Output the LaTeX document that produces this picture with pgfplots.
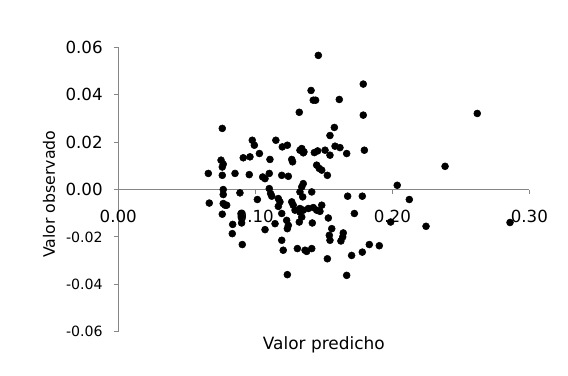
\documentclass[border=0pt]{standalone}
\usepackage{fontspec}
\setmainfont{DejaVu Sans}
\usepackage{pgfplots}
\pgfplotsset{compat=1.18}
\definecolor{axisgray}{HTML}{868686}
\newcommand{\bigf}{\fontsize{12.5}{14}\selectfont}
\newcommand{\smallf}{\fontsize{10.6}{12}\selectfont}
\begin{document}
\begin{tikzpicture}
\begin{axis}[
  name=ax,
  scale only axis, width=308.25pt, height=213.3pt,
  xmin=0, xmax=0.30, ymin=-0.06, ymax=0.06,
  scaled ticks=false,
  axis x line*=middle, axis y line*=left,
  hide obscured x ticks=false, hide obscured y ticks=false,
  axis line style={color=axisgray, line width=0.75pt},
  xtick={0,0.1,0.2,0.3}, xticklabels={0.00,0.10,0.20,0.30},
  ytick={-0.06,-0.04,-0.02,0,0.02,0.04,0.06},
  yticklabels={{\smallf -0.06},{\smallf -0.04},{\smallf -0.02},{\bigf 0.00},{\bigf 0.02},{\bigf 0.04},{\bigf 0.06}},
  tick align=outside, major tick length=3.5pt,
  tick style={color=axisgray, line width=0.75pt},
  x tick label style={font=\bigf, anchor=center, yshift=-16.8pt},
  y tick label style={anchor=east, inner sep=0pt, xshift=-8pt},
  xlabel={Valor predicho}, ylabel={Valor observado},
  xlabel style={at={(axis description cs:0.5,-0.047)}, anchor=center, font=\fontsize{12.7}{15}\selectfont},
  ylabel style={at={(axis description cs:-0.1686,0.484)}, anchor=center, font=\fontsize{11.8}{14}\selectfont},
  clip=false,
]
\addplot[only marks, mark=*, mark size=2.6pt, mark options={fill=black, draw=black}] coordinates {
(0.0759,0.0258) (0.0978,0.0208) (0.0993,0.0187) (0.103,0.0152) (0.0912,0.0134)
(0.0961,0.0138) (0.1107,0.0127) (0.115,0.0208) (0.1197,0.018) (0.1234,0.0187)
(0.1326,0.0166) (0.135,0.0155) (0.1266,0.0127) (0.1321,0.0326) (0.1407,0.0418)
(0.075,0.0124) (0.146,0.0566) (0.1423,0.0377) (0.144,0.0377) (0.1788,0.0445)
(0.1613,0.038) (0.1788,0.0314) (0.1577,0.0262) (0.1545,0.0228) (0.1339,0.0173)
(0.1355,0.0159) (0.1431,0.0156) (0.1455,0.0163) (0.1509,0.0166) (0.1545,0.0145)
(0.1582,0.0183) (0.1618,0.0177) (0.1667,0.0152) (0.1796,0.0166) (0.0766,0.0107)
(0.0759,0.0095) (0.0657,0.0068) (0.0759,0.006) (0.0852,0.0068) (0.0956,0.0063)
(0.1054,0.0053) (0.1071,0.0046) (0.1102,0.0068) (0.1193,0.006) (0.1241,0.0056)
(0.135,0.0025) (0.1339,0.0011) (0.0766,0.0) (0.0766,-0.0021) (0.0888,-0.0014)
(0.1102,0.0004) (0.1112,-0.0017) (0.112,-0.0028) (0.1015,-0.0042) (0.1168,-0.0038)
(0.118,-0.0052) (0.1326,-0.001) (0.1346,-0.0031) (0.0664,-0.0057) (0.0766,-0.0059)
(0.0791,-0.0066) (0.0759,-0.0104) (0.0896,-0.0101) (0.09,-0.0116) (0.0835,-0.0147)
(0.0832,-0.0186) (0.09,-0.0141) (0.0905,-0.0232) (0.1071,-0.0169) (0.1144,-0.0144)
(0.1168,-0.0071) (0.1193,-0.0101) (0.1229,-0.013) (0.1241,-0.0151) (0.1234,-0.0165)
(0.1266,-0.0052) (0.1277,-0.0066) (0.129,-0.0087) (0.1326,-0.0095) (0.1339,-0.0116)
(0.1321,-0.0137) (0.1193,-0.0214) (0.1204,-0.0256) (0.1307,-0.0249) (0.1363,-0.0256)
(0.1234,-0.0359) (0.1448,0.0103) (0.1467,0.0089) (0.1485,0.0082) (0.1526,0.006)
(0.1412,-0.001) (0.1674,-0.0028) (0.1781,-0.0028) (0.2036,0.0018) (0.2124,-0.0042)
(0.135,-0.0087) (0.1387,-0.008) (0.1423,-0.0076) (0.1448,-0.0087) (0.1472,-0.0092)
(0.1485,-0.0066) (0.1533,-0.012) (0.1723,-0.0101) (0.1416,-0.0141) (0.1558,-0.0165)
(0.154,-0.0193) (0.1545,-0.0214) (0.1642,-0.0183) (0.1638,-0.02) (0.1625,-0.0217)
(0.1988,-0.0137) (0.1832,-0.0232) (0.1905,-0.0237) (0.1781,-0.0264) (0.1703,-0.0278)
(0.1375,-0.0261) (0.1412,-0.0249) (0.1526,-0.0292) (0.1667,-0.0362) (0.262,0.0321)
(0.2385,0.0098) (0.2246,-0.0155) (0.2859,-0.0139) (0.0779,-0.0066) (0.1326,-0.008)
(0.1272,0.0117)
};
\end{axis}
\path[use as bounding box] ([xshift=-88.7pt,yshift=-32.5pt]ax.south west) rectangle ([xshift=29pt,yshift=35.5pt]ax.north east);
\end{tikzpicture}
\end{document}
